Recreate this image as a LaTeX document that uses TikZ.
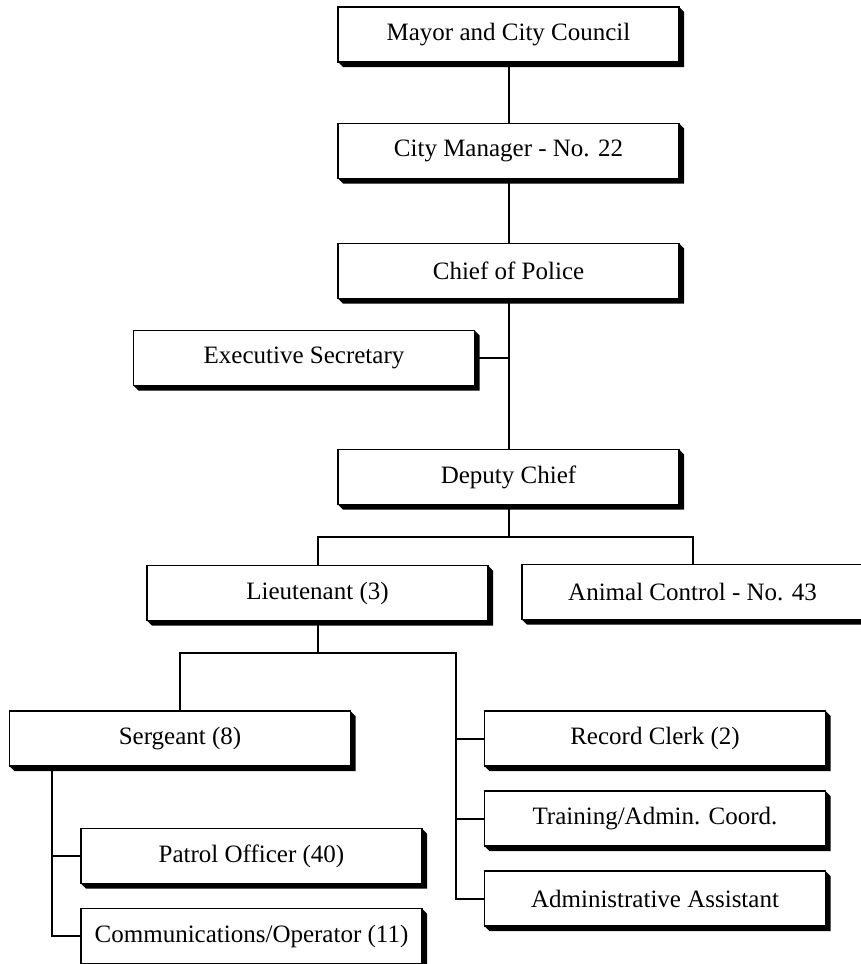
\documentclass[tikz,border=0pt]{standalone}
\usepackage{fontspec}
\setmainfont{Liberation Serif}
\usetikzlibrary{backgrounds}
\begin{document}
\begin{tikzpicture}[x=1pt,y=-1pt,
  orgbox/.style={draw=black, fill=white, line width=1.5pt, rectangle,
    minimum width=341pt, minimum height=55pt, inner sep=0pt, outer sep=0pt,
    font=\fontsize{25}{30}\selectfont},
  link/.style={draw=black, line width=2pt}]
\useasboundingbox (0,0) rectangle (860,964);

% positions
\node[orgbox] (mayor)  at (508.5, 34.5) {Mayor and City Council};
\node[orgbox] (mgr)    at (508.5, 151)  {City Manager - No. 22};
\node[orgbox] (chief)  at (508.5, 271)  {Chief of Police};
\node[orgbox] (sec)    at (304, 358)    {Executive Secretary};
\node[orgbox] (deputy) at (508.5, 477)  {Deputy Chief};
\node[orgbox] (lieut)  at (317.5, 593)  {Lieutenant (3)};
\node[orgbox] (animal) at (692.5, 592)  {Animal Control - No. 43};
\node[orgbox] (serg)   at (180, 738.5)  {Sergeant (8)};
\node[orgbox] (record) at (655, 738.5)  {Record Clerk (2)};
\node[orgbox] (train)  at (655, 818.5)  {Training/Admin. Coord.};
\node[orgbox] (admin)  at (655, 898.5)  {Administrative Assistant};
\node[orgbox] (patrol) at (251.5, 856)  {Patrol Officer (40)};
\node[orgbox] (comm)   at (251.5, 936)  {Communications/Operator (11)};

% raised-edge shadows behind every box
\begin{pgfonlayer}{background}
\foreach \n in {mayor,mgr,chief,sec,deputy,lieut,animal,serg,record,train,admin,patrol,comm}{
  \fill[black] (\n.south west) -- ++(5pt,-5pt) -| ([shift={(5pt,-5pt)}]\n.north east)
    -- (\n.north east) -- (\n.south east) -- cycle;
}
\end{pgfonlayer}

% bus points
\coordinate (b1) at (508.5, 537);
\coordinate (b2) at (317.5, 653);
\coordinate (b3) at (456, 653);
\coordinate (b4) at (52, 765);

% connectors
\draw[link] (mayor.south) -- (mgr.north);
\draw[link] (mgr.south) -- (chief.north);
\draw[link] (chief.south) -- (deputy.north);
\draw[link] (sec.east) -- (sec.east -| chief.south);
\draw[link] (deputy.south) -- (b1);
\draw[link] (lieut.north) |- (b1) -| (animal.north);
\draw[link] (lieut.south) -- (b2);
\draw[link] (serg.north) |- (b3) |- (admin.west);
\draw[link] (record.west) -- (record.west -| b3);
\draw[link] (train.west) -- (train.west -| b3);
\draw[link] (b4) |- (comm.west);
\draw[link] (patrol.west) -- (patrol.west -| b4);
\end{tikzpicture}
\end{document}
